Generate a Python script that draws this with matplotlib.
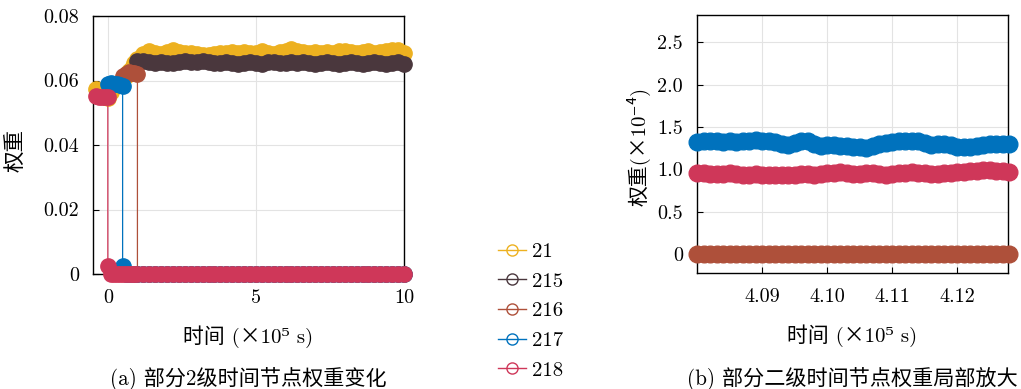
import numpy as np
import matplotlib
matplotlib.use("Agg")
import matplotlib.pyplot as plt
from matplotlib.lines import Line2D

plt.rcParams['font.family'] = ['cmr10', 'Noto Sans CJK SC', 'DejaVu Serif']
plt.rcParams['axes.formatter.use_mathtext'] = True
plt.rcParams['font.size'] = 14.5

# node labels and colours
nodes = ['21', '215', '216', '217', '218']
colors = ['#EDB120', '#4A373D', '#AE503A', '#0072BD', '#CF3759']

# ---- (a) full time range, time in 1e5 s ----
t_fine = [-0.4, -0.3, -0.2, -0.1, 0.0, 0.1, 0.2, 0.3, 0.4, 0.5, 0.6, 0.7, 0.8, 0.9, 1.0]
t_coarse = list(np.round(np.arange(1.2, 10.01, 0.2), 1))
t_all = t_fine + t_coarse

w21 = [0.0575, 0.0570, 0.0560, 0.0548, 0.0545, 0.0565, 0.0580, 0.0588, 0.0595, 0.0605,
       0.0615, 0.0628, 0.0640, 0.0655, 0.0668,
       0.0682, 0.0690, 0.0686, 0.0683, 0.0688, 0.0695, 0.0688, 0.0684, 0.0686, 0.0683,
       0.0680, 0.0678, 0.0682, 0.0686, 0.0684, 0.0687, 0.0685, 0.0688, 0.0684, 0.0686,
       0.0690, 0.0686, 0.0683, 0.0687, 0.0690, 0.0697, 0.0692, 0.0688, 0.0685, 0.0687,
       0.0684, 0.0688, 0.0686, 0.0690, 0.0692, 0.0689, 0.0686, 0.0688, 0.0690, 0.0686,
       0.0689, 0.0692, 0.0694, 0.0696, 0.0685]

t215 = [1.0] + t_coarse
w215 = [0.0662,
        0.0660, 0.0656, 0.0654, 0.0657, 0.0655, 0.0653, 0.0657, 0.0659, 0.0656, 0.0658,
        0.0661, 0.0658, 0.0655, 0.0653, 0.0656, 0.0654, 0.0651, 0.0655, 0.0657, 0.0654,
        0.0652, 0.0656, 0.0658, 0.0655, 0.0653, 0.0656, 0.0654, 0.0657, 0.0655, 0.0652,
        0.0655, 0.0658, 0.0654, 0.0651, 0.0654, 0.0656, 0.0653, 0.0651, 0.0654, 0.0657,
        0.0654, 0.0652, 0.0655, 0.0658, 0.0652]

# nodes that drop out: active part, then the fall to zero
t216 = [0.5, 0.6, 0.7, 0.8, 0.9, 1.0, 1.0] + t_coarse
w216 = [0.0615, 0.0620, 0.0625, 0.0624, 0.0622, 0.0620, 0.0] + [0.0] * len(t_coarse)

t217 = [0.0, 0.1, 0.2, 0.3, 0.4, 0.5, 0.5] + t_fine[10:] + t_coarse
w217 = [0.0590, 0.0592, 0.0590, 0.0588, 0.0585, 0.0583, 0.0025] + [0.0] * (len(t_fine[10:]) + len(t_coarse))

t218 = [-0.4, -0.3, -0.2, -0.1, 0.0, 0.0] + t_fine[5:] + t_coarse
w218 = [0.0552, 0.0550, 0.0548, 0.0550, 0.0549, 0.0025] + [0.0] * (len(t_fine[5:]) + len(t_coarse))

# ---- (b) zoomed window, weights in 1e-4 ----
t_zoom = np.round(np.linspace(4.080, 4.128, 49), 3)
z216 = [0.0] * 49
z217 = [1.32, 1.33, 1.33, 1.33, 1.32, 1.33, 1.32, 1.33, 1.34, 1.35,
        1.34, 1.33, 1.32, 1.30, 1.29, 1.31, 1.33, 1.33, 1.30, 1.28,
        1.29, 1.29, 1.28, 1.28, 1.27, 1.26, 1.25, 1.28, 1.30, 1.31,
        1.32, 1.33, 1.33, 1.34, 1.33, 1.31, 1.29, 1.30, 1.30, 1.29,
        1.27, 1.26, 1.27, 1.28, 1.29, 1.30, 1.30, 1.30, 1.30]
z218 = [0.96, 0.96, 0.95, 0.95, 0.95, 0.96, 0.95, 0.94, 0.94, 0.95,
        0.94, 0.94, 0.93, 0.93, 0.93, 0.94, 0.95, 0.95, 0.94, 0.95,
        0.96, 0.96, 0.97, 0.96, 0.95, 0.95, 0.96, 0.96, 0.95, 0.94,
        0.95, 0.96, 0.96, 0.97, 0.96, 0.96, 0.95, 0.95, 0.96, 0.96,
        0.97, 0.97, 0.98, 0.98, 0.99, 0.99, 0.98, 0.98, 0.97]

W, H = 1021, 389
fig = plt.figure(figsize=(W / 100, H / 100), dpi=100)
ax1 = fig.add_axes([93 / W, 1 - 274 / H, 311 / W, 258 / H])
ax2 = fig.add_axes([697 / W, 1 - 273 / H, 311 / W, 258 / H])

for ax in (ax1, ax2):
    ax.grid(True, color='#e3e3e3', linewidth=0.8)
    ax.set_axisbelow(True)
    ax.tick_params(direction='in', length=4, width=0.8, colors='black', labelsize=14.5)
    ax.tick_params(axis='x', pad=11)
    ax.tick_params(axis='y', pad=10)
    for s in ax.spines.values():
        s.set_linewidth(1.0)
        s.set_zorder(1)

series_a = [(t_all, w21), (t215, w215), (t216, w216), (t217, w217), (t218, w218)]
for (tx, wy), c in zip(series_a, colors):
    ax1.plot(tx, wy, '-o', color=c, lw=0.9, ms=11, mec=c, clip_on=False, zorder=3)

ax1.set_xlim(-0.5, 10)
ax1.set_ylim(0, 0.08)
ax1.set_xticks([0, 5, 10])
ax1.set_xticklabels(['0', '5', '10'])
ax1.set_yticks([0, 0.02, 0.04, 0.06, 0.08])
ax1.set_yticklabels(['0', '0.02', '0.04', '0.06', '0.08'])
ax1.set_ylabel('权重', fontsize=15.5)
ax1.yaxis.set_label_coords(-0.215, 0.48)
ax1.set_xlabel('时间 (×10⁵ s)', fontsize=15)
ax1.xaxis.set_label_coords(0.5, -0.2)

for wy, c in zip([z216, z217, z218], colors[2:]):
    ax2.plot(t_zoom, wy, '-o', color=c, lw=0.9, ms=12, mec=c, clip_on=False, zorder=3)

ax2.set_xlim(4.080, 4.1278)
ax2.set_ylim(-0.22, 2.82)
ax2.set_xticks([4.09, 4.10, 4.11, 4.12])
ax2.set_xticklabels(['4.09', '4.10', '4.11', '4.12'])
ax2.set_yticks([0, 0.5, 1.0, 1.5, 2.0, 2.5])
ax2.set_yticklabels(['0', '0.5', '1.0', '1.5', '2.0', '2.5'])
ax2.set_ylabel('权重(×10⁻⁴)', fontsize=15)
ax2.yaxis.set_label_coords(-0.15, 0.49)
ax2.set_xlabel('时间 (×10⁵ s)', fontsize=15)
ax2.xaxis.set_label_coords(0.5, -0.2)

handles = [Line2D([], [], color=c, lw=1.0, marker='o', ms=8, mfc='none', mec=c) for c in colors]
fig.legend(handles, nodes, loc='upper left', bbox_to_anchor=(488 / W, 1 - 232 / H),
           frameon=False, handlelength=1.3, handletextpad=0.3, labelspacing=0.53,
           borderpad=0, fontsize=15)

fig.text(248.5 / W, 1 - 379 / H, '(a) 部分2级时间节点权重变化', ha='center', va='center', fontsize=15.2)
fig.text(852 / W, 1 - 379 / H, '(b) 部分二级时间节点权重局部放大', ha='center', va='center', fontsize=15.2)

fig.savefig('out.png', dpi=100)
